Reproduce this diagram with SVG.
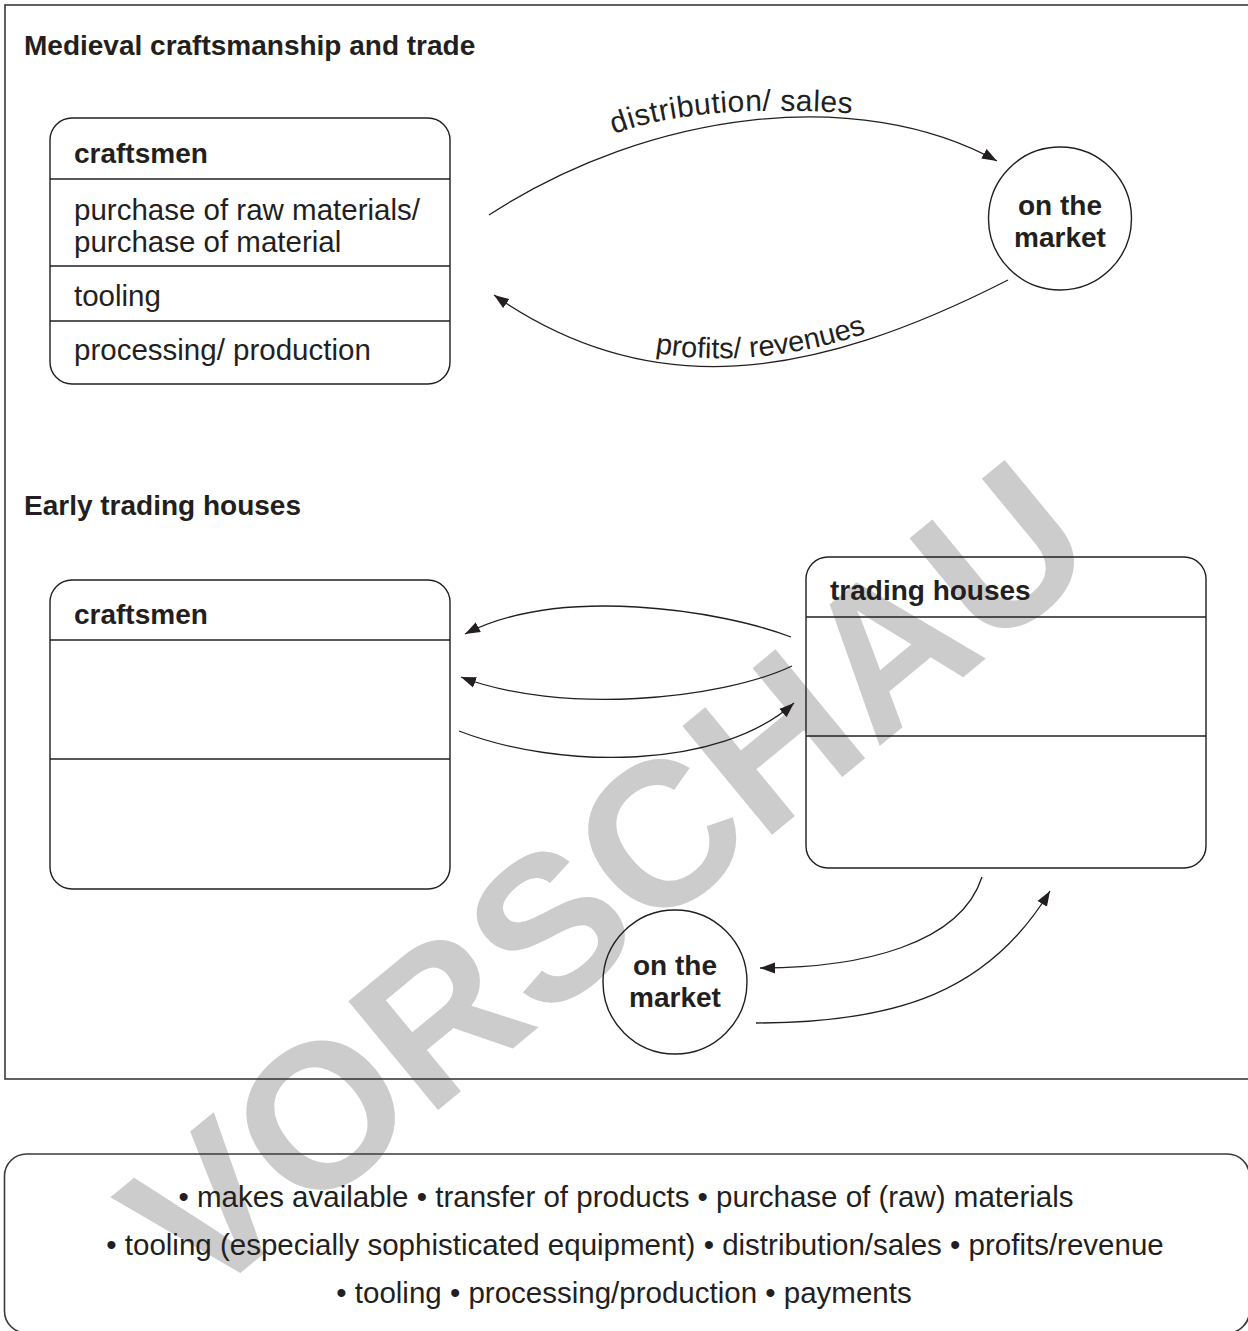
<svg xmlns="http://www.w3.org/2000/svg" width="1248" height="1331" viewBox="0 0 1248 1331">
<defs>
<style>
.t{font-family:"Liberation Sans",Arial,Helvetica,sans-serif;fill:#231f20}
.b{font-weight:bold;font-size:28px}
.r{font-size:29.5px}
.l{font-size:29.5px}
.box{fill:none;stroke:#231f20;stroke-width:1.4}
.dv{stroke:#231f20;stroke-width:1.4}
.frame{fill:none;stroke:#3a3a3a;stroke-width:1.6}
.arr{fill:none;stroke:#231f20;stroke-width:1.3;marker-end:url(#ah)}
.wm{font-family:"Liberation Sans",Arial,sans-serif;font-weight:bold;font-size:205px;fill:#cccccc}
</style>
<marker id="ah" markerUnits="userSpaceOnUse" markerWidth="16" markerHeight="12" refX="15" refY="6" orient="auto" viewBox="0 0 16 12"><path d="M0,0.5 L15,6 L0,11.5 Z" fill="#231f20"/></marker>
<path id="tp1" d="M614,134 Q700,102 860,114"/>
<path id="tp2" d="M655,353 Q760,370 870,332"/>
</defs>
<rect x="0" y="0" width="1248" height="1331" fill="#ffffff"/>
<text class="wm" text-anchor="middle" transform="translate(651.5,934) rotate(-39.5)">VORSCHAU</text>
<g id="frames">
<rect class="frame" x="5" y="5" width="1265" height="1074"/>
<rect class="frame" x="4.5" y="1154" width="1245" height="179" rx="22"/>
</g>
<text class="t b" x="24" y="55">Medieval craftsmanship and trade</text>
<text class="t b" x="24" y="515">Early trading houses</text>
<g id="craftsmen1">
<rect class="box" x="50" y="118" width="400" height="266" rx="22"/>
<line class="dv" x1="50" y1="179" x2="450" y2="179"/>
<line class="dv" x1="50" y1="266" x2="450" y2="266"/>
<line class="dv" x1="50" y1="321" x2="450" y2="321"/>
<text class="t b" x="74" y="163">craftsmen</text>
<text class="t r" x="74" y="220">purchase of raw materials/</text>
<text class="t r" x="74" y="252">purchase of material</text>
<text class="t r" x="74" y="306">tooling</text>
<text class="t r" x="74" y="360">processing/ production</text>
</g>
<g id="market1">
<circle class="box" cx="1060" cy="218.5" r="71.5"/>
<text class="t b" x="1060" y="215" text-anchor="middle">on the</text>
<text class="t b" x="1060" y="247" text-anchor="middle">market</text>
</g>
<g id="craftsmen2">
<rect class="box" x="50" y="580" width="400" height="309" rx="22"/>
<line class="dv" x1="50" y1="640" x2="450" y2="640"/>
<line class="dv" x1="50" y1="759" x2="450" y2="759"/>
<text class="t b" x="74" y="624">craftsmen</text>
</g>
<g id="tradinghouses">
<rect class="box" x="806" y="557" width="400" height="311" rx="22"/>
<line class="dv" x1="806" y1="617" x2="1206" y2="617"/>
<line class="dv" x1="806" y1="736" x2="1206" y2="736"/>
<text class="t b" x="830" y="600">trading houses</text>
</g>
<g id="market2">
<circle class="box" cx="675" cy="982" r="72"/>
<text class="t b" x="675" y="975" text-anchor="middle">on the</text>
<text class="t b" x="675" y="1007" text-anchor="middle">market</text>
</g>
<g id="connectors">
<path class="arr" d="M489,215 C650,110 860,85 997,161"/>
<path class="arr" d="M1008,280 C812,380 650,404 494,295"/>
<path class="arr" d="M791,637 C720,610 560,585 465,634"/>
<path class="arr" d="M792,666 C720,700 560,715 461,677"/>
<path class="arr" d="M459,731 C560,770 720,770 794,703"/>
<path class="arr" d="M982,877 C960,945 860,968 760,968"/>
<path class="arr" d="M756,1023 C900,1023 990,990 1050,891"/>
<text class="t" style="font-size:30px;letter-spacing:0.5px"><textPath href="#tp1">distribution/ sales</textPath></text>
<text class="t" style="font-size:29px"><textPath href="#tp2">profits/ revenues</textPath></text>
</g>
<g id="legend">
<text class="t l" x="626" y="1207" text-anchor="middle">• makes available • transfer of products • purchase of (raw) materials</text>
<text class="t l" x="635" y="1255" text-anchor="middle">• tooling (especially sophisticated equipment) • distribution/sales • profits/revenue</text>
<text class="t l" x="624" y="1303" text-anchor="middle">• tooling • processing/production • payments</text>
</g>
</svg>
